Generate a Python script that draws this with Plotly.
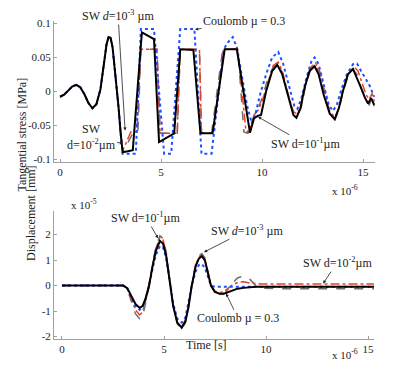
import plotly.graph_objects as go

# ---- data (time in 1e-6 s) ----
# tangential stress [MPa]: common start of all curves
t_early = [0, 0.2, 0.4, 0.6, 0.8, 1.0, 1.2, 1.4, 1.6, 1.8, 2.0, 2.1, 2.2, 2.3, 2.4, 2.5, 2.6, 2.7, 2.8, 2.9, 3.0]
s_early = [-0.008, -0.005, 0.001, 0.007, 0.0095, 0.006, -0.004, -0.017, -0.025, -0.019, 0.003, 0.024,
           0.048, 0.069, 0.080, 0.079, 0.065, 0.038, 0.008, -0.025, -0.062]

t_sw1 = [3.1, 3.6, 4.05, 4.65, 4.9, 5.65, 5.95, 6.6, 6.95, 7.55, 8.15, 8.75, 9.4, 9.6, 9.8, 9.95, 10.2,
         10.5, 10.75, 11.0, 11.3, 11.55, 11.7, 11.9, 12.1, 12.35, 12.6, 12.8, 13.05, 13.35, 13.6, 13.8,
         14.0, 14.25, 14.5, 14.7, 14.9, 15.1, 15.25, 15.4, 15.55]
s_sw1 = [-0.090, -0.087, 0.087, 0.077, -0.075, -0.062, 0.062, 0.061, -0.062, -0.062, 0.062, 0.062, -0.061,
         -0.040, -0.036, -0.035, 0.000, 0.030, 0.039, 0.025, -0.010, -0.035, -0.039, -0.025, 0.005, 0.030,
         0.037, 0.025, -0.005, -0.033, -0.041, -0.025, 0.000, 0.025, 0.033, 0.020, 0.005, -0.010, -0.018,
         -0.010, -0.020]

t_sw2 = [3.1, 3.5, 3.8, 4.0, 4.8, 4.95, 5.8, 5.95, 6.9, 7.0, 7.55, 8.1, 8.8, 9.2, 9.35, 9.6, 9.8, 10.0,
         10.3, 10.55, 10.8, 11.0, 11.3, 11.55, 11.75, 11.95, 12.15, 12.4, 12.65, 12.85, 13.1, 13.35, 13.6,
         13.8, 14.0, 14.25, 14.55, 14.75, 14.95, 15.15, 15.3, 15.45, 15.55]
s_sw2 = [-0.088, -0.060, -0.060, 0.062, 0.062, -0.062, -0.062, 0.062, 0.062, -0.062, -0.062, 0.062, 0.062,
         -0.058, -0.060, -0.035, -0.028, -0.015, 0.015, 0.038, 0.043, 0.030, -0.005, -0.030, -0.034, -0.020,
         0.010, 0.035, 0.042, 0.030, 0.000, -0.030, -0.038, -0.025, 0.000, 0.025, 0.036, 0.030, 0.012,
         -0.005, -0.012, -0.003, -0.015]

t_sw3 = [3.1, 3.6, 3.85, 4.0, 4.8, 4.95, 5.8, 5.95, 6.9, 7.0, 7.5, 8.05, 8.8, 9.1, 9.3, 9.55, 9.75, 10.0,
         10.3, 10.55, 10.75, 11.0, 11.3, 11.55, 11.75, 11.95, 12.15, 12.4, 12.6, 12.85, 13.1, 13.35, 13.6,
         13.8, 14.0, 14.25, 14.5, 14.7, 14.9, 15.1, 15.3, 15.45, 15.55]
s_sw3 = [-0.090, -0.062, -0.062, 0.062, 0.062, -0.062, -0.062, 0.062, 0.062, -0.062, -0.062, 0.062, 0.062,
         -0.060, -0.062, -0.040, -0.030, -0.010, 0.020, 0.036, 0.040, 0.028, -0.008, -0.033, -0.037, -0.022,
         0.008, 0.032, 0.038, 0.028, -0.002, -0.033, -0.042, -0.028, -0.002, 0.022, 0.032, 0.025, 0.005,
         -0.012, -0.020, -0.010, -0.022]

t_coul = [3.1, 3.75, 4.0, 4.65, 5.15, 5.5, 5.95, 6.65, 7.0, 7.5, 8.1, 8.3, 8.55, 8.75, 9.0, 9.25, 9.5, 9.7,
          9.9, 10.2, 10.5, 10.8, 11.05, 11.35, 11.6, 11.75, 11.95, 12.2, 12.45, 12.6, 12.8, 13.05, 13.3,
          13.5, 13.7, 13.95, 14.2, 14.5, 14.7, 14.9, 15.1, 15.3, 15.55]
s_coul = [-0.092, -0.092, 0.092, 0.092, -0.092, -0.092, 0.092, 0.092, -0.092, -0.092, 0.062, 0.072, 0.080,
          0.065, 0.020, -0.020, -0.048, -0.030, -0.005, 0.025, 0.050, 0.058, 0.040, 0.005, -0.022, -0.026,
          -0.010, 0.020, 0.045, 0.050, 0.040, 0.010, -0.020, -0.029, -0.020, 0.005, 0.025, 0.040, 0.041,
          0.030, 0.020, 0.010, -0.008]

# displacement [1e-5 mm]
t_disp = [0, 3.0, 3.2, 3.4, 3.6, 3.8, 3.95, 4.1, 4.27, 4.45, 4.6, 4.8, 4.95, 5.1, 5.29, 5.45, 5.65, 5.87,
          6.05, 6.2, 6.36, 6.55, 6.7, 6.85, 7.0, 7.15, 7.3, 7.5, 7.75, 8.0, 8.3, 8.6, 8.9, 9.2, 9.5, 9.8,
          10.5, 15.4]
d_sw1 = [0, 0, -0.10, -0.40, -0.72, -0.87, -0.80, -0.50, 0.00, 0.80, 1.35, 1.75, 1.65, 1.20, 0.10, -0.80,
         -1.45, -1.65, -1.40, -0.85, 0.00, 0.75, 1.05, 1.15, 1.00, 0.55, 0.00, -0.25, -0.33, -0.30, -0.20,
         -0.12, -0.09, -0.06, -0.05, -0.05, -0.05, -0.05]
d_sw2 = [0, 0, -0.12, -0.50, -0.95, -1.15, -1.05, -0.60, 0.05, 0.85, 1.45, 1.88, 1.80, 1.30, 0.15, -0.80,
         -1.45, -1.60, -1.35, -0.75, 0.05, 0.80, 1.10, 1.20, 1.05, 0.55, 0.00, -0.22, -0.28, -0.20, 0.00,
         0.12, 0.15, 0.10, 0.07, 0.06, 0.06, 0.06]
d_sw3 = [0, 0, -0.15, -0.60, -1.10, -1.30, -1.20, -0.70, 0.00, 0.90, 1.50, 1.95, 1.85, 1.35, 0.20, -0.80,
         -1.50, -1.72, -1.45, -0.80, 0.05, 0.85, 1.15, 1.25, 1.10, 0.60, 0.00, -0.30, -0.42, -0.30, 0.05,
         0.30, 0.38, 0.25, 0.00, -0.10, -0.12, -0.12]
d_coul = [0, 0, -0.10, -0.45, -0.80, -0.95, -0.85, -0.50, 0.00, 0.70, 1.20, 1.55, 1.50, 1.10, 0.10, -0.70,
          -1.30, -1.45, -1.25, -0.70, 0.00, 0.55, 0.80, 0.85, 0.70, 0.35, 0.00, -0.05, -0.05, -0.05, -0.05,
          -0.05, -0.05, -0.05, -0.05, -0.05, -0.05, -0.05]

stress_ticks = [-0.1, -0.05, 0, 0.05, 0.1]
stress_labels = ["-0.1", "-0.05", "0", "0.05", "0.1"]
disp_ticks = [-2, -1, 0, 1, 2]
disp_labels = ["-2", "-1", "0", "1", "2"]
time_ticks = [0, 5, 10, 15]

W, H = 415, 374
FONT = "Liberation Serif, 'Times New Roman', Times, serif"


def px(x):
    return x / W


def py(y):
    return 1 - y / H


styles = {
    "sw3": dict(color="#6e6e6e", width=1.5, dash="dash"),
    "sw2": dict(color="#e8402a", width=1.5, dash="dashdot"),
    "coul": dict(color="#1f4fff", width=2, dash="dot"),
    "sw1": dict(color="black", width=2),
}

fig = go.Figure()

# top panel
fig.add_trace(go.Scatter(x=t_early + t_sw3, y=s_early + s_sw3, mode="lines", line=styles["sw3"]))
fig.add_trace(go.Scatter(x=t_early + t_sw2, y=s_early + s_sw2, mode="lines", line=styles["sw2"]))
fig.add_trace(go.Scatter(x=t_early + t_coul, y=s_early + s_coul, mode="lines", line=styles["coul"]))
fig.add_trace(go.Scatter(x=t_early + t_sw1, y=s_early + s_sw1, mode="lines", line=styles["sw1"]))

# bottom panel
for d, key in [(d_sw3, "sw3"), (d_sw2, "sw2"), (d_coul, "coul"), (d_sw1, "sw1")]:
    fig.add_trace(go.Scatter(x=t_disp, y=d, mode="lines", line=styles[key], xaxis="x2", yaxis="y2"))

axis_common = dict(showline=True, linecolor="#a0a0a0", linewidth=1, ticks="inside", ticklen=3,
                   tickcolor="#a0a0a0", showgrid=False, zeroline=False,
                   tickfont=dict(family=FONT, size=11, color="#222"))

fig.update_layout(
    width=W, height=H, margin=dict(l=0, r=0, t=0, b=0),
    paper_bgcolor="white", plot_bgcolor="white", showlegend=False, hovermode=False,
    font=dict(family=FONT, size=12, color="#222"),
    xaxis=dict(domain=[px(54), px(375)], range=[-0.3, 15.59], tickvals=time_ticks, anchor="y", **axis_common),
    yaxis=dict(domain=[py(162), py(18)], range=[-0.1043, 0.1043], tickvals=stress_ticks,
               ticktext=stress_labels, anchor="x", **axis_common),
    xaxis2=dict(domain=[px(54), px(374)], range=[-0.39, 15.29], tickvals=time_ticks, anchor="y2", **axis_common),
    yaxis2=dict(domain=[py(342), py(212)], range=[-2.077, 2.92], tickvals=disp_ticks,
                ticktext=disp_labels, anchor="x2", **axis_common),
)


def label(text, x, y, size=12, **kw):
    fig.add_annotation(text=text, x=px(x), y=py(y), xref="paper", yref="paper", showarrow=False,
                       font=dict(family=FONT, size=size, color="#222"), **kw)


# pixel position of a data point, used to place a label relative to its arrow tip
def tip_px(tx, ty, panel):
    if panel == 1:
        return 60 + 20.2 * tx, 90 - ty / 0.05 * 34.5
    return 62 + 20.4 * tx, 288 - ty * 26


def note(text, tx, ty, cx, cy, panel):
    x0, y0 = tip_px(tx, ty, panel)
    xr, yr = ("x", "y") if panel == 1 else ("x2", "y2")
    fig.add_annotation(text=text, x=tx, y=ty, xref=xr, yref=yr, ax=cx - x0, ay=cy - y0,
                       showarrow=True, arrowhead=2, arrowsize=0.8, arrowwidth=0.8, arrowcolor="#222",
                       font=dict(family=FONT, size=12, color="#222"))


# axis titles
label("Tangential stress [MPa]", 13, 74, textangle=-90)
label("Displacement [mm]", 22, 265, textangle=-90)
label("Time [s]", 206, 358)
label("x 10<sup>-6</sup>", 360, 191, size=11)
label("x 10<sup>-6</sup>", 360, 367, size=11)
label("x 10<sup>-5</sup>", 69, 205, size=11)

# top annotations
note("SW <i>d</i>=10<sup>-3</sup> µm", 3.22, -0.058, 118, 15, 1)
note("Coulomb µ = 0.3", 6.68, 0.0913, 244, 19, 1)
note("SW<br>d=10<sup>-2</sup>µm", 3.12, -0.077, 91, 137, 1)
note("SW d=10<sup>-1</sup>µm", 9.80, -0.0377, 305, 143, 1)

# bottom annotations
note("SW d=10<sup>-1</sup>µm", 4.71, 1.85, 146, 219, 2)
note("SW <i>d</i>=10<sup>-3</sup> µm", 6.96, 1.31, 247, 232, 2)
note("SW d=10<sup>-2</sup>µm", 12.8, 0.08, 337, 265, 2)
note("Coulomb µ = 0.3", 8.04, -0.31, 238, 321, 2)

# the page body has a default 8px margin; remove it so the figure fills the window
fig.write_html("out.html", config={"displayModeBar": False, "staticPlot": True},
               post_script="document.body.style.margin='0';document.body.style.overflow='hidden';")
